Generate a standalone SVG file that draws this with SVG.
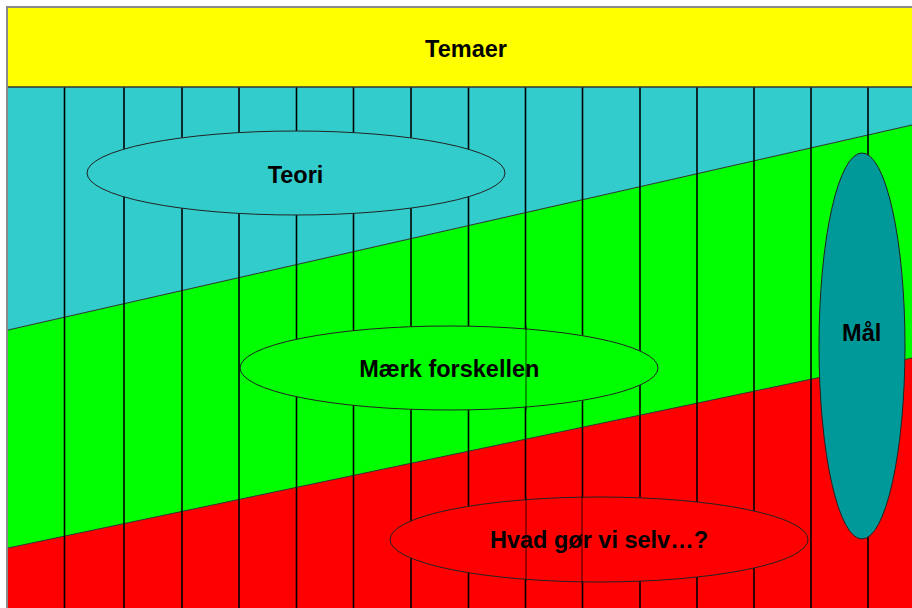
<svg xmlns="http://www.w3.org/2000/svg" width="912" height="608" viewBox="0 0 912 608">
<style>
.lbl{font-family:"Liberation Sans",Arial,sans-serif;font-weight:bold;font-size:23.5px;fill:#000;text-anchor:middle}
.vl{stroke:#000;stroke-width:1.6}
.vt{stroke:#000;stroke-width:0.8}
.el{stroke:#222;stroke-width:1}
.bd{stroke:#333;stroke-width:1;fill:none}
</style>
<rect x="0" y="0" width="912" height="608" fill="#fff"/>
<g id="bands">
<rect x="8" y="87" width="904" height="521" fill="#33CCCC"/>
<polygon points="8,330 912,125 912,608 8,608" fill="#00FF00"/>
<polygon points="8,548 912,358 912,608 8,608" fill="#FF0000"/>
<line class="bd" x1="8" y1="330" x2="912" y2="125"/>
<line class="bd" x1="8" y1="548" x2="912" y2="358"/>
</g>
<g id="grid">
<line class="vl" x1="64.5" y1="87" x2="64.5" y2="608"/>
<line class="vl" x1="124" y1="87" x2="124" y2="608"/>
<line class="vl" x1="182" y1="87" x2="182" y2="608"/>
<line class="vl" x1="239" y1="87" x2="239" y2="608"/>
<line class="vl" x1="296.5" y1="87" x2="296.5" y2="608"/>
<line class="vl" x1="353.5" y1="87" x2="353.5" y2="608"/>
<line class="vl" x1="411" y1="87" x2="411" y2="608"/>
<line class="vl" x1="468.5" y1="87" x2="468.5" y2="608"/>
<line class="vl" x1="525.5" y1="87" x2="525.5" y2="608"/>
<line class="vl" x1="582.5" y1="87" x2="582.5" y2="608"/>
<line class="vl" x1="640" y1="87" x2="640" y2="608"/>
<line class="vl" x1="697" y1="87" x2="697" y2="608"/>
<line class="vl" x1="754" y1="87" x2="754" y2="608"/>
<line class="vl" x1="811" y1="87" x2="811" y2="608"/>
<line class="vl" x1="868" y1="87" x2="868" y2="608"/>
</g>
<g id="temaer">
<rect x="8" y="8" width="904" height="79" fill="#FFFF00"/>
<line x1="8" y1="87" x2="912" y2="87" stroke="#333" stroke-width="1.5"/>
<text class="lbl" x="466" y="56.5">Temaer</text>
</g>
<g id="frame">
<line x1="7" y1="7" x2="7" y2="608" stroke="#8a8a8a" stroke-width="2"/>
<line x1="6" y1="7" x2="912" y2="7" stroke="#8a8a8a" stroke-width="2"/>
</g>
<g id="teori">
<ellipse class="el" cx="296" cy="173" rx="209" ry="42" fill="#33CCCC"/>
<text class="lbl" x="295.5" y="182.5">Teori</text>
</g>
<g id="maerk">
<ellipse class="el" cx="449" cy="368" rx="209" ry="42" fill="#00FF00"/>
<line class="vt" x1="526" y1="326" x2="526" y2="410"/>
<text class="lbl" x="449.3" y="377">Mærk forskellen</text>
</g>
<g id="hvad">
<ellipse class="el" cx="599" cy="539.5" rx="209" ry="42.5" fill="#FF0000"/>
<line class="vt" x1="526" y1="497" x2="526" y2="582"/>
<line class="vt" x1="582" y1="497" x2="582" y2="582"/>
<text class="lbl" x="599" y="548">Hvad gør vi selv…?</text>
</g>
<g id="maal">
<ellipse class="el" cx="862" cy="346" rx="43" ry="193" fill="#009999"/>
<text class="lbl" x="861.7" y="341">Mål</text>
</g>
</svg>
